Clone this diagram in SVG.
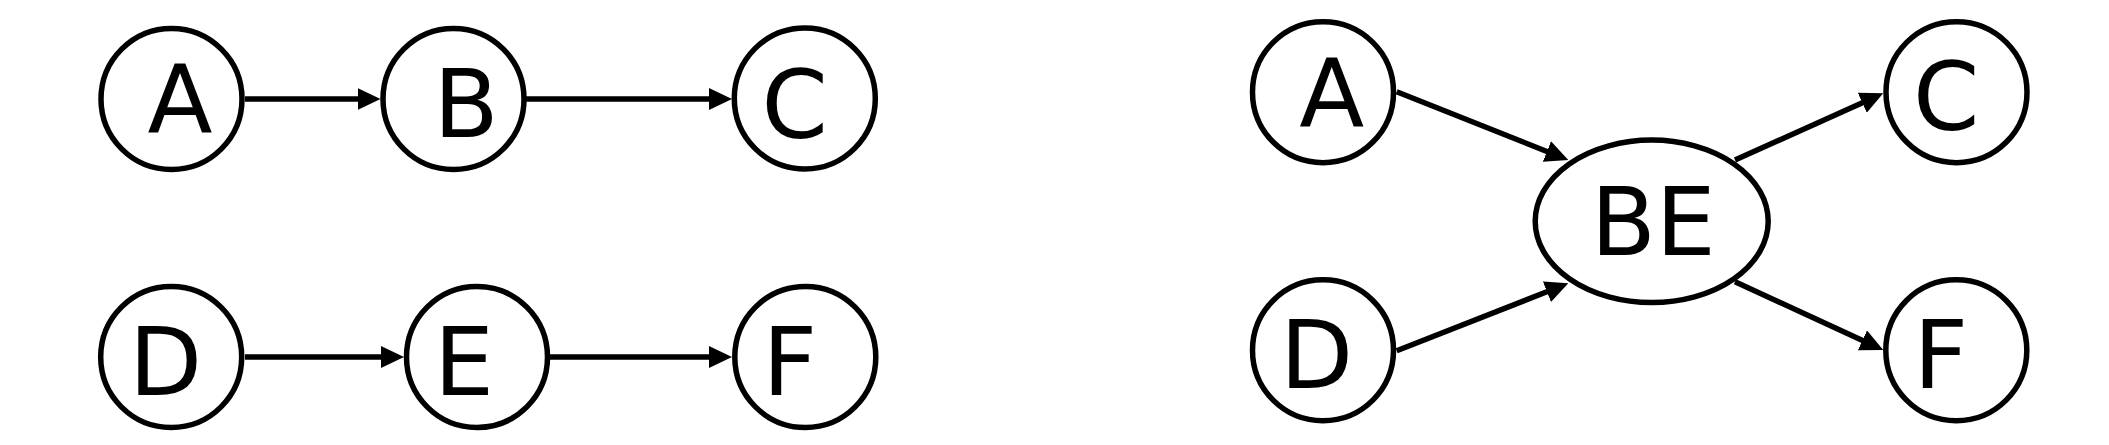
<svg xmlns="http://www.w3.org/2000/svg" width="2109" height="445" viewBox="0 0 2109 445">
<style>
.node circle, .node ellipse { fill: #fff; stroke: #000; stroke-width: 5.5; }
.node text { font-family: "DejaVu Sans", "Liberation Sans", sans-serif; font-size: 95px; fill: #000; }
.edge { stroke: #000; stroke-width: 5.5; fill: none; marker-end: url(#arrow); }
</style>
<defs>
<marker id="arrow" markerUnits="userSpaceOnUse" viewBox="0 0 23 22" refX="2" refY="11" markerWidth="23" markerHeight="22" orient="auto">
<path d="M0,0 L23,11 L0,22 Z" fill="#000"/>
</marker>
</defs>
<rect width="2109" height="445" fill="#fff"/>
<g id="connectors">
<line class="edge" x1="245" y1="99" x2="359.5" y2="99"/>
<line class="edge" x1="526" y1="99" x2="711" y2="99"/>
<line class="edge" x1="245" y1="357" x2="383" y2="357"/>
<line class="edge" x1="550" y1="357" x2="711" y2="357"/>
<line class="edge" x1="1396.7" y1="91.7" x2="1548.8" y2="152.2"/>
<line class="edge" x1="1396.7" y1="350.7" x2="1548.8" y2="291"/>
<line class="edge" x1="1735" y1="160" x2="1864.1" y2="101.9"/>
<line class="edge" x1="1735" y1="281.7" x2="1864.2" y2="341.2"/>
</g>
<g id="L_A" class="node"><circle cx="171.5" cy="99" r="70.5"/><text x="147.5" y="133.3">A</text></g>
<g id="L_B" class="node"><circle cx="453.5" cy="99" r="70.5"/><text x="433.4" y="137">B</text></g>
<g id="L_C" class="node"><circle cx="804.8" cy="98.5" r="70.5"/><text x="761.4" y="137.5">C</text></g>
<g id="L_D" class="node"><circle cx="171.2" cy="357" r="70.5"/><text x="129" y="395">D</text></g>
<g id="L_E" class="node"><circle cx="477" cy="357" r="70.5"/><text x="434" y="395">E</text></g>
<g id="L_F" class="node"><circle cx="805.3" cy="357" r="70.5"/><text x="762.4" y="395">F</text></g>
<g id="R_A" class="node"><circle cx="1323" cy="92.2" r="70.5"/><text x="1299.2" y="126.7">A</text></g>
<g id="R_D" class="node"><circle cx="1323" cy="350.3" r="70.5"/><text x="1280" y="388.3">D</text></g>
<g id="R_BE" class="node"><ellipse cx="1651.7" cy="221.3" rx="116.5" ry="81.2"/><text x="1590.7" y="254.5">BE</text></g>
<g id="R_C" class="node"><circle cx="1956.5" cy="92.2" r="70.5"/><text x="1913" y="130">C</text></g>
<g id="R_F" class="node"><circle cx="1956.3" cy="350.3" r="70.5"/><text x="1913.4" y="388.3">F</text></g>
</svg>
